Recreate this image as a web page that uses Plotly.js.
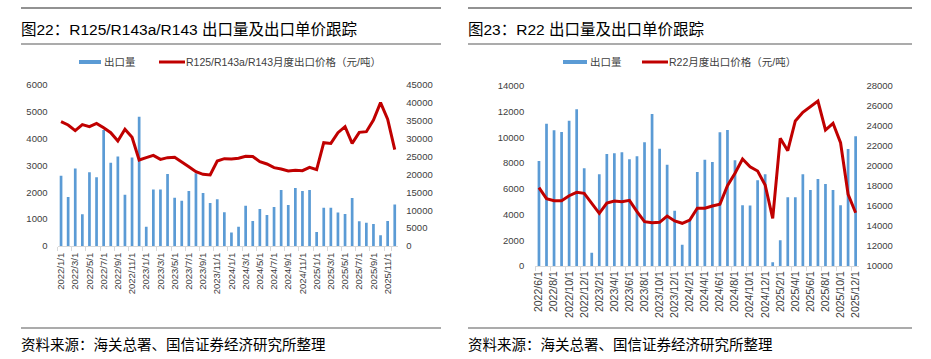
<!DOCTYPE html>
<html>
<head>
<meta charset="utf-8">
<script src="https://cdn.plot.ly/plotly-3.0.1.min.js"></script>
<style>html,body{margin:0;padding:0;background:#fff;}#chart{width:931px;height:359px;}</style>
</head>
<body>
<div id="chart"></div>
<script>
// ---------- Data: chart 1 (R125/R143a/R143) ----------
const cats1 = [
  "2022/1/1","2022/2/1","2022/3/1","2022/4/1","2022/5/1","2022/6/1","2022/7/1","2022/8/1","2022/9/1","2022/10/1","2022/11/1","2022/12/1",
  "2023/1/1","2023/2/1","2023/3/1","2023/4/1","2023/5/1","2023/6/1","2023/7/1","2023/8/1","2023/9/1","2023/10/1","2023/11/1","2023/12/1",
  "2024/1/1","2024/2/1","2024/3/1","2024/4/1","2024/5/1","2024/6/1","2024/7/1","2024/8/1","2024/9/1","2024/10/1","2024/11/1","2024/12/1",
  "2025/1/1","2025/2/1","2025/3/1","2025/4/1","2025/5/1","2025/6/1","2025/7/1","2025/8/1","2025/9/1","2025/10/1","2025/11/1","2025/12/1"
];
const volume1 = [
  2620,1830,2890,1180,2745,2560,4320,3100,3340,1910,3300,4820,
  720,2110,2110,2680,1800,1690,2050,2710,1975,1600,1740,1255,
  500,720,1500,930,1380,1155,1450,2090,1530,2160,2050,2090,
  520,1430,1430,1245,1190,1790,920,870,820,400,930,1550
];
const price1 = [
  34750,33820,32240,33910,33350,34280,33070,31680,29350,32610,30370,24040,
  24690,25340,24220,24690,24780,23570,22170,20780,20030,19840,23760,24410,
  24320,24510,25070,25000,23570,22920,21890,21530,20970,21160,21060,21990,
  21330,28870,28680,31670,33350,28680,31760,31950,35220,40060,35420,26920
];
const ticks1 = [
  "2022/1/1","2022/3/1","2022/5/1","2022/7/1","2022/9/1","2022/11/1",
  "2023/1/1","2023/3/1","2023/5/1","2023/7/1","2023/9/1","2023/11/1",
  "2024/1/1","2024/3/1","2024/5/1","2024/7/1","2024/9/1","2024/11/1",
  "2025/1/1","2025/3/1","2025/5/1","2025/7/1","2025/9/1","2025/11/1"
];

// ---------- Data: chart 2 (R22) ----------
const cats2 = [
  "2022/6/1","2022/7/1","2022/8/1","2022/9/1","2022/10/1","2022/11/1","2022/12/1",
  "2023/1/1","2023/2/1","2023/3/1","2023/4/1","2023/5/1","2023/6/1","2023/7/1","2023/8/1","2023/9/1","2023/10/1","2023/11/1","2023/12/1",
  "2024/1/1","2024/2/1","2024/3/1","2024/4/1","2024/5/1","2024/6/1","2024/7/1","2024/8/1","2024/9/1","2024/10/1","2024/11/1","2024/12/1",
  "2025/1/1","2025/2/1","2025/3/1","2025/4/1","2025/5/1","2025/6/1","2025/7/1","2025/8/1","2025/9/1","2025/10/1","2025/11/1","2025/12/1"
];
const volume2 = [
  8170,11070,10550,10420,11300,12190,7600,
  1040,7130,8710,8760,8840,8300,8530,9620,11820,9120,7880,4300,
  1660,3600,7310,8270,8090,10400,10580,8220,4720,4700,6660,7130,
  290,2000,5340,5340,7130,5910,6770,6380,5910,4720,9100,10090
];
const price2 = [
  17830,16730,16530,16530,17030,17370,17270,
  16230,15270,16300,16500,16430,16570,15430,14430,14330,14370,15000,14500,
  14270,14600,15770,15770,16000,16170,18030,19270,20700,19930,19500,18100,
  14770,22770,21530,24500,25370,25900,26500,23600,24270,22330,17170,15330
];
const ticks2 = [
  "2022/6/1","2022/8/1","2022/10/1","2022/12/1",
  "2023/2/1","2023/4/1","2023/6/1","2023/8/1","2023/10/1","2023/12/1",
  "2024/2/1","2024/4/1","2024/6/1","2024/8/1","2024/10/1","2024/12/1",
  "2025/2/1","2025/4/1","2025/6/1","2025/8/1","2025/10/1","2025/12/1"
];

// ---------- Text ----------
const title1 = "图22：R125/R143a/R143 出口量及出口单价跟踪";
const title2 = "图23：R22 出口量及出口单价跟踪";
const legendBar = "出口量";
const legendLine1 = "R125/R143a/R143月度出口价格（元/吨）";
const legendLine2 = "R22月度出口价格（元/吨）";
const source = "资料来源：海关总署、国信证券经济研究所整理";

// ---------- Layout helpers ----------
const W = 931, H = 359;
const px = x => x / W;
const py = y => 1 - y / H;
const FONT = "Liberation Sans, Arial, Noto Sans CJK SC, sans-serif";
const BLUE = "#5B9BD5", RED = "#C00000", TXT = "#404040";

const traces = [
  {type:"bar", x:cats1, y:volume1, xaxis:"x", yaxis:"y", marker:{color:BLUE}, width:0.38, name:legendBar},
  {type:"scatter", mode:"lines", x:cats1, y:price1, xaxis:"x", yaxis:"y2", line:{color:RED, width:3}, name:legendLine1},
  {type:"bar", x:cats2, y:volume2, xaxis:"x2", yaxis:"y3", marker:{color:BLUE}, width:0.36, name:legendBar},
  {type:"scatter", mode:"lines", x:cats2, y:price2, xaxis:"x2", yaxis:"y4", line:{color:RED, width:3}, name:legendLine2}
];

const xCommon = {
  type:"category", tickmode:"array", tickangle:-90,
  tickfont:{size:9.5, color:TXT, family:FONT},
  showline:true, linecolor:"#d9d9d9", linewidth:1,
  ticks:"outside", ticklen:4, tickcolor:"#d9d9d9", tickson:"boundaries",
  showgrid:false, zeroline:false, fixedrange:true
};
const yCommon = {
  tickfont:{size:9.5, color:TXT, family:FONT}, tickformat:"d",
  showgrid:false, zeroline:false, showline:false, ticks:"", fixedrange:true
};

const layout = {
  width:W, height:H,
  margin:{l:0, r:0, t:0, b:0},
  paper_bgcolor:"#fff", plot_bgcolor:"#fff",
  showlegend:false,
  font:{family:FONT, color:TXT},
  xaxis: Object.assign({}, xCommon, {domain:[px(57.5), px(398.3)], anchor:"y", range:[-0.5, 47.5], tickvals:ticks1, ticktext:ticks1, ticklabelstandoff:2}),
  yaxis: Object.assign({}, yCommon, {domain:[py(246), py(85)], anchor:"x", range:[0, 6000], dtick:1000, ticklabelstandoff:9}),
  yaxis2: Object.assign({}, yCommon, {overlaying:"y", side:"right", anchor:"x", range:[0, 45000], dtick:5000, ticklabelstandoff:7}),
  xaxis2: Object.assign({}, xCommon, {domain:[px(535.2), px(859.4)], anchor:"y3", range:[-0.5, 42.5], tickvals:ticks2, ticktext:ticks2, tickfont:{size:10.5, color:TXT, family:FONT}, ticklabelstandoff:0}),
  yaxis3: Object.assign({}, yCommon, {domain:[py(266), py(86)], anchor:"x2", range:[0, 14000], dtick:2000, ticklabelstandoff:10}),
  yaxis4: Object.assign({}, yCommon, {overlaying:"y3", side:"right", anchor:"x2", range:[10000, 28000], dtick:2000, ticklabelstandoff:6}),
  shapes: [
    {type:"line", xref:"paper", yref:"paper", x0:px(21), x1:px(441), y0:py(8), y1:py(8), line:{color:"#262626", width:1.2}},
    {type:"line", xref:"paper", yref:"paper", x0:px(21), x1:px(441), y0:py(44), y1:py(44), line:{color:"#595959", width:1.2}},
    {type:"line", xref:"paper", yref:"paper", x0:px(21), x1:px(441), y0:py(328), y1:py(328), line:{color:"#595959", width:1.2}},
    {type:"line", xref:"paper", yref:"paper", x0:px(468), x1:px(912), y0:py(8), y1:py(8), line:{color:"#262626", width:1.2}},
    {type:"line", xref:"paper", yref:"paper", x0:px(468), x1:px(912), y0:py(44), y1:py(44), line:{color:"#595959", width:1.2}},
    {type:"line", xref:"paper", yref:"paper", x0:px(468), x1:px(912), y0:py(328), y1:py(328), line:{color:"#595959", width:1.2}},
    {type:"rect", xref:"paper", yref:"paper", x0:px(79), x1:px(101), y0:py(64), y1:py(60), fillcolor:BLUE, line:{width:0}},
    {type:"line", xref:"paper", yref:"paper", x0:px(159), x1:px(185), y0:py(62), y1:py(62), line:{color:RED, width:3}},
    {type:"rect", xref:"paper", yref:"paper", x0:px(563), x1:px(587), y0:py(64), y1:py(60), fillcolor:BLUE, line:{width:0}},
    {type:"line", xref:"paper", yref:"paper", x0:px(642), x1:px(668), y0:py(62), y1:py(62), line:{color:RED, width:3}}
  ],
  annotations: [
    {text:title1, xref:"paper", yref:"paper", x:px(19), y:py(30), xanchor:"left", yanchor:"middle", showarrow:false, font:{size:15.5, color:"#000", family:FONT}},
    {text:title2, xref:"paper", yref:"paper", x:px(466), y:py(30), xanchor:"left", yanchor:"middle", showarrow:false, font:{size:15.5, color:"#000", family:FONT}},
    {text:legendBar, xref:"paper", yref:"paper", x:px(102), y:py(62), xanchor:"left", yanchor:"middle", showarrow:false, font:{size:10.5, color:TXT, family:FONT}},
    {text:legendLine1, xref:"paper", yref:"paper", x:px(184), y:py(62), xanchor:"left", yanchor:"middle", showarrow:false, font:{size:10.5, color:TXT, family:FONT}},
    {text:legendBar, xref:"paper", yref:"paper", x:px(588), y:py(62), xanchor:"left", yanchor:"middle", showarrow:false, font:{size:10.5, color:TXT, family:FONT}},
    {text:legendLine2, xref:"paper", yref:"paper", x:px(667), y:py(62), xanchor:"left", yanchor:"middle", showarrow:false, font:{size:10.5, color:TXT, family:FONT}},
    {text:source, xref:"paper", yref:"paper", x:px(19), y:py(345), xanchor:"left", yanchor:"middle", showarrow:false, font:{size:14.5, color:"#000", family:FONT}},
    {text:source, xref:"paper", yref:"paper", x:px(466), y:py(345), xanchor:"left", yanchor:"middle", showarrow:false, font:{size:14.5, color:"#000", family:FONT}}
  ]
};

Plotly.newPlot("chart", traces, layout, {displayModeBar:false, staticPlot:true});
</script>
</body>
</html>
